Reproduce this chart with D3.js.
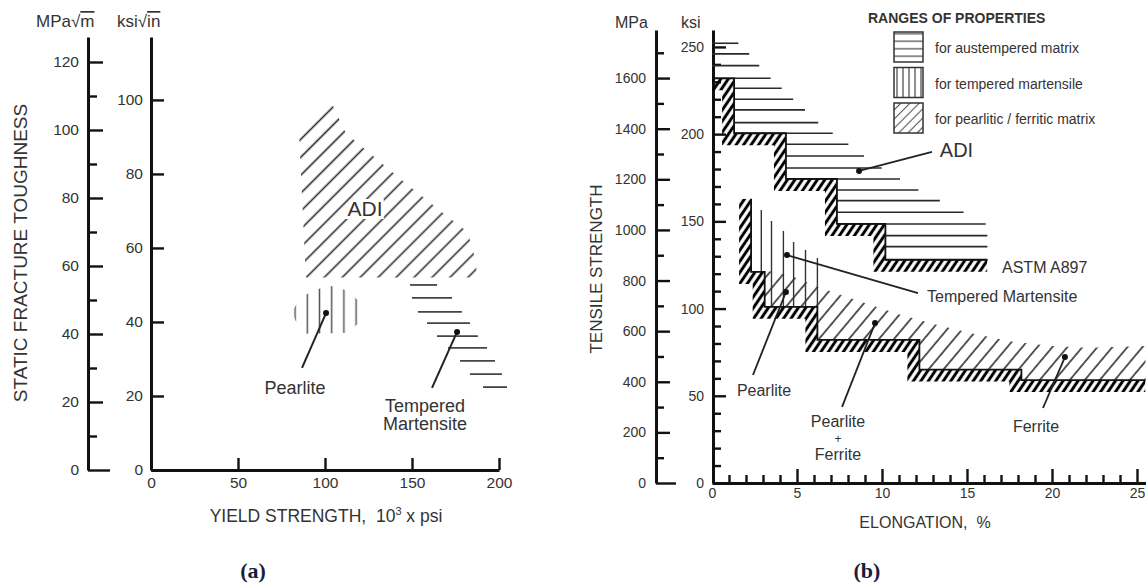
<!DOCTYPE html>
<html>
<head>
<meta charset="utf-8">
<script src="https://cdn.jsdelivr.net/npm/d3@7"></script>
<style>
  body { margin: 0; background: #fff; }
  text { font-family: "Liberation Sans", Arial, sans-serif; fill: #333; }
</style>
</head>
<body>
<svg id="canvas"></svg>
<script>
// ---------- (a) fracture toughness vs yield strength ----------
const aMPaTicks = [0, 20, 40, 60, 80, 100, 120];
const aMPaMinor = [10, 30, 50, 70, 90, 110];
const aKsiTicks = [0, 20, 40, 60, 80, 100];
const aYieldTicks = [0, 50, 100, 150, 200];

// ADI range (yield ksi, toughness ksi√in)
const adiAX = [85, 103, 112, 145, 170, 182, 187, 187, 89];
const adiAY = [92, 100, 91, 78, 68.6, 64.3, 56, 52, 52];
// pearlite range
const pearlAX = [81, 87.4, 96, 104, 112.1, 119, 120.1, 119, 112.1, 88.5, 82.8];
const pearlAY = [43, 47, 48.9, 49.7, 48.6, 45.9, 42.7, 39.5, 37, 36.8, 40.5];
// tempered martensite: horizontal bars
const tmAY = [50.0, 46.5, 42.7, 39.7, 36.2, 33.0, 29.5, 25.9, 22.4];
const tmAX0 = [148.9, 150, 153.4, 158.6, 164.4, 170.7, 177.6, 183.3, 190.8];
const tmAX1 = [164.4, 173, 178.7, 183.3, 187.9, 193.1, 197.7, 201.7, 204.6];

// ---------- (b) tensile strength vs elongation ----------
const bMPaTicks = [0, 200, 400, 600, 800, 1000, 1200, 1400, 1600];
const bMPaMinor = [100, 300, 500, 700, 900, 1100, 1300, 1500, 1700];
const bKsiTicks = [0, 50, 100, 150, 200, 250];
const bKsiMinor = [10, 20, 30, 40, 60, 70, 80, 90, 110, 120, 130, 140, 160, 170, 180, 190, 210, 220, 230, 240];
const bElongTicks = [0, 5, 10, 15, 20, 25];
const bElongMinor = [1, 2, 3, 4, 6, 7, 8, 9, 11, 12, 13, 14, 16, 17, 18, 19, 21, 22, 23, 24];

// ADI (ASTM A897) lower step boundary
const adiStepE = [0, 1.3, 4.35, 7.35, 10.2, 16.2];
const adiStepKsi = [232, 200.5, 174.3, 148.5, 128];
// ADI ranges: strength level (ksi) and max elongation (%)
const adiLineKsi = [252.1, 246.0, 239.3, 232.0, 226.3, 220.0, 213.9, 206.6, 200.5, 194.2,
  187.5, 180.6, 174.3, 168.0, 161.9, 155.2, 148.5, 141.8, 135.5, 128.0];
const adiLineEnd = [1.55, 2.19, 2.78, 3.45, 4.10, 4.78, 5.47, 6.25, 7.10, 8.02,
  8.94, 9.98, 11.06, 12.14, 13.40, 14.80, 16.10, 16.20, 16.20, 16.20];

// ductile iron (pearlite / ferrite) lower step boundary
const diTopKsi = 163;
const diStepE = [2.3, 3.1, 6.2, 12.2, 18.2, 25.5];
const diStepKsi = [121, 101, 82, 65, 59];
// upper edge of pearlitic / ferritic range
const pfTopE = [3.1, 4.6, 6.35, 8.6, 10.9, 13.1, 15.4, 17.7, 20.0, 22.1, 25.5];
const pfTopKsi = [122, 119, 112, 104.5, 97, 91, 85.5, 81, 78.5, 77.5, 78.5];

// tempered martensite: vertical bars
const tmBE = [2.9, 3.5, 4.2, 4.8, 5.5, 6.2];
const tmBTop = [156.5, 150.2, 144.5, 138.2, 133.6, 129];
const tmBBottom = [121, 101, 101, 101, 101, 101];

const legendLabels = ["for austempered matrix", "for tempered martensile", "for pearlitic / ferritic matrix"];
const legendFills = ["legH", "legV", "legD"];

const width = 1146;
const height = 585;

const canvas = d3.select("#canvas").attr("width", width).attr("height", height);
const defs = canvas.append("defs");

const xA = d3.scaleLinear().domain([0, 200]).range([151, 499]);
const yA = d3.scaleLinear().domain([0, 117]).range([470, 37]);
const yAm = d3.scaleLinear().domain([0, 127.35]).range([470, 37]);
const xB = d3.scaleLinear().domain([0, 25.5]).range([712, 1145.5]);
const yB = d3.scaleLinear().domain([0, 259.7]).range([483, 30]);
const yBm = d3.scaleLinear().domain([0, 1790]).range([483, 30]);

// hatch patterns
const hatch = (id, spacing, angle, sw, color, x0 = 0) => {
  const p = defs.append("pattern")
    .attr("id", id)
    .attr("patternUnits", "userSpaceOnUse")
    .attr("width", spacing)
    .attr("height", spacing)
    .attr("x", x0)
    .attr("patternTransform", `rotate(${angle})`);
  p.append("line")
    .attr("x1", spacing / 2).attr("x2", spacing / 2)
    .attr("y1", -1).attr("y2", spacing + 1)
    .attr("stroke", color)
    .attr("stroke-width", sw);
};
hatch("hatchA", 12.7, 45, 1.6, "#2a2a2a");
hatch("vertA", 12.2, 0, 1.5, "#555", 289);
hatch("band", 6.2, 34, 3, "#000");
hatch("pfB", 11.5, 40, 1.5, "#222");
hatch("legH", 7.5, 90, 1.2, "#444");
hatch("legV", 6, 0, 1.2, "#444", 894);
hatch("legD", 6.5, 45, 1.1, "#555");

// ---------- axes ----------
const yAxis = (scale, x, major, minor, majLen, minLen, fs, gap, stub) => {
  const g = canvas.append("g").attr("transform", `translate(${x},0)`);
  g.call(d3.axisRight(scale).tickValues(major).tickSize(majLen).tickSizeOuter(0).tickFormat(d3.format("d")));
  if (minor.length) {
    g.append("g")
      .call(d3.axisRight(scale).tickValues(minor).tickSize(minLen).tickFormat(""))
      .call((s) => s.select(".domain").remove());
  }
  g.attr("font-size", fs).attr("font-family", null);
  g.selectAll(".domain").attr("stroke", "#111").attr("stroke-width", 3);
  g.selectAll(".tick line").attr("stroke", "#111").attr("stroke-width", 2.4);
  g.selectAll(".tick text").attr("x", -gap).attr("text-anchor", "end").attr("fill", "#444");
  if (stub) {
    g.selectAll(".tick").filter((d) => d === 0).select("line").attr("x2", stub);
  }
  return g;
};

const xAxis = (scale, y, major, minor, majLen, minLen, fs, gap) => {
  const g = canvas.append("g").attr("transform", `translate(0,${y})`);
  g.call(d3.axisTop(scale).tickValues(major).tickSize(majLen).tickSizeOuter(0).tickFormat(d3.format("d")));
  if (minor.length) {
    g.append("g")
      .call(d3.axisTop(scale).tickValues(minor).tickSize(minLen).tickFormat(""))
      .call((s) => s.select(".domain").remove());
  }
  g.attr("font-size", fs).attr("font-family", null);
  g.selectAll(".domain").attr("stroke", "#111").attr("stroke-width", 3);
  g.selectAll(".tick line").attr("stroke", "#111").attr("stroke-width", 2.4);
  g.selectAll(".tick text").attr("y", gap).attr("dy", "0.71em").attr("fill", "#444");
  return g;
};

// (a)
yAxis(yAm, 88, aMPaTicks, aMPaMinor, 15, 9, 15.5, 9, 22);
yAxis(yA, 151, aKsiTicks, [], 13, 0, 15.5, 8, 0);
const xa = xAxis(xA, 470, aYieldTicks, [], 12, 0, 15.5, 7);
xa.selectAll(".tick").filter((d) => d === 0).select("line").remove();

// (b)
yAxis(yBm, 656, bMPaTicks, bMPaMinor, 14, 8, 14, 10, 20);
yAxis(yB, 713, bKsiTicks, bKsiMinor, 13, 8, 14, 9, 0);
const xb = xAxis(xB, 483, bElongTicks, bElongMinor, 14, 8, 14, 5);
xb.selectAll(".tick").filter((d) => d === 0).select("line").remove();

// ---------- panel (a) marks ----------
const lineA = d3.line().x((d) => xA(d[0])).y((d) => yA(d[1]));
const polyA = d3.line().x((d) => xA(d[0])).y((d) => yA(d[1])).curve(d3.curveLinearClosed);

canvas.append("path")
  .attr("d", polyA(d3.zip(adiAX, adiAY)))
  .attr("fill", "url(#hatchA)");

canvas.append("path")
  .attr("d", polyA(d3.zip(pearlAX, pearlAY)))
  .attr("fill", "url(#vertA)");

canvas.append("g")
  .selectAll("line")
  .data(tmAY)
  .join("line")
  .attr("x1", (d, i) => xA(tmAX0[i]))
  .attr("x2", (d, i) => xA(tmAX1[i]))
  .attr("y1", (d) => yA(d))
  .attr("y2", (d) => yA(d))
  .attr("stroke", "#444")
  .attr("stroke-width", 1.8);

// pointers (a)
const pointersA = [
  [[100.6, 42.4], [86.8, 27.6]],
  [[175.9, 37.3], [161.5, 22.2]],
];
pointersA.forEach((p) => {
  canvas.append("path").attr("d", lineA(p)).attr("stroke", "#222").attr("stroke-width", 2).attr("fill", "none");
  canvas.append("circle").attr("cx", xA(p[0][0])).attr("cy", yA(p[0][1])).attr("r", 3).attr("fill", "#111");
});

canvas.append("text")
  .attr("x", xA(123)).attr("y", yA(68.6))
  .attr("text-anchor", "middle")
  .attr("font-size", 21)
  .attr("stroke", "#fff").attr("stroke-width", 6).attr("paint-order", "stroke")
  .text("ADI");

const labelsA = [
  { t: "Pearlite", x: 82.8, y: 20.5 },
  { t: "Tempered", x: 157.5, y: 15.7 },
  { t: "Martensite", x: 157.5, y: 10.8 },
];
canvas.append("g")
  .selectAll("text")
  .data(labelsA)
  .join("text")
  .attr("x", (d) => xA(d.x))
  .attr("y", (d) => yA(d.y))
  .attr("text-anchor", "middle")
  .attr("font-size", 18)
  .text((d) => d.t);

// axis headers and titles (a)
canvas.append("text").attr("x", 36).attr("y", 27).attr("font-size", 17)
  .html('MPa√<tspan style="text-decoration:overline">m </tspan>');
canvas.append("text").attr("x", 117).attr("y", 27).attr("font-size", 17)
  .html('ksi√<tspan style="text-decoration:overline">in </tspan>');
canvas.append("text")
  .attr("transform", "translate(27,253) rotate(-90)")
  .attr("text-anchor", "middle")
  .attr("font-size", 19)
  .text("STATIC FRACTURE TOUGHNESS");
canvas.append("text")
  .attr("x", 326).attr("y", 522)
  .attr("text-anchor", "middle")
  .attr("font-size", 17.5)
  .attr("style", "white-space:pre")
  .html('YIELD STRENGTH,  10<tspan dy="-7" font-size="11">3</tspan><tspan dy="7"> x psi</tspan>');

// ---------- panel (b) marks ----------
const lineB = d3.line().x((d) => xB(d[0])).y((d) => yB(d[1]));

const stepPts = (E, K, top) => {
  const p = top != null ? [[E[0], top]] : [];
  K.forEach((k, i) => {
    p.push([E[i], k]);
    p.push([E[i + 1], k]);
  });
  return p;
};
const adiPts = stepPts(adiStepE, adiStepKsi);
const diPts = stepPts(diStepE, diStepKsi, diTopKsi);

// pearlitic / ferritic range
const pfPoly = [...d3.zip(pfTopE, pfTopKsi), ...diPts.slice(2).reverse()];
canvas.append("path").attr("d", lineB(pfPoly) + "Z").attr("fill", "url(#pfB)");

// tempered martensite bars
canvas.append("g")
  .selectAll("line")
  .data(tmBE)
  .join("line")
  .attr("x1", (d) => xB(d))
  .attr("x2", (d) => xB(d))
  .attr("y1", (d, i) => yB(tmBTop[i]))
  .attr("y2", (d, i) => yB(tmBBottom[i]))
  .attr("stroke", "#333")
  .attr("stroke-width", 1.4);

// ADI bars, starting at the step boundary
const adiStart = (k) => adiStepE[adiStepKsi.findIndex((s) => s <= k + 0.5)];
canvas.append("g")
  .selectAll("line")
  .data(adiLineKsi)
  .join("line")
  .attr("x1", (d) => xB(adiStart(d)))
  .attr("x2", (d, i) => xB(adiLineEnd[i]))
  .attr("y1", (d) => yB(d))
  .attr("y2", (d) => yB(d))
  .attr("stroke", "#2a2a2a")
  .attr("stroke-width", 1.6);

// thick hatched boundary bands
const clipPoly = (pts) => {
  const first = pts[0];
  const last = pts[pts.length - 1];
  return [[first[0] - 2, first[1]], ...pts, [last[0], -30], [first[0] - 2, -30]];
};
[["clipAdi", adiPts], ["clipDi", diPts]].forEach(([id, pts]) => {
  defs.append("clipPath").attr("id", id).append("path").attr("d", lineB(clipPoly(pts)) + "Z");
  canvas.append("path")
    .attr("d", lineB(pts))
    .attr("fill", "none")
    .attr("stroke", "url(#band)")
    .attr("stroke-width", 24)
    .attr("stroke-linejoin", "miter")
    .attr("clip-path", `url(#${id})`);
  canvas.append("path")
    .attr("d", lineB(pts))
    .attr("fill", "none")
    .attr("stroke", "#111")
    .attr("stroke-width", 1.8);
});

// pointers (b)
const pointersB = [
  [[8.65, 178.9], [12.94, 189.8]],
  [[4.41, 130.7], [12.12, 108.9]],
  [[4.35, 109.5], [2.41, 61.9]],
  [[9.59, 91.7], [7.65, 43.6]],
  [[20.76, 72.2], [19.47, 43.0]],
];
pointersB.forEach((p) => {
  canvas.append("path").attr("d", lineB(p)).attr("stroke", "#222").attr("stroke-width", 1.8).attr("fill", "none");
  canvas.append("circle").attr("cx", xB(p[0][0])).attr("cy", yB(p[0][1])).attr("r", 3).attr("fill", "#111");
});

const labelsB = [
  { t: "ADI", x: 13.4, y: 186.9, a: "start", s: 20 },
  { t: "ASTM A897", x: 17.06, y: 120.4, a: "start", s: 16 },
  { t: "Tempered Martensite", x: 12.65, y: 103.8, a: "start", s: 16 },
  { t: "Pearlite", x: 3.06, y: 49.9, a: "middle", s: 16 },
  { t: "Pearlite", x: 7.41, y: 32.1, a: "middle", s: 16 },
  { t: "+", x: 7.41, y: 22.9, a: "middle", s: 12 },
  { t: "Ferrite", x: 7.41, y: 13.2, a: "middle", s: 16 },
  { t: "Ferrite", x: 19.06, y: 29.2, a: "middle", s: 16 },
];
canvas.append("g")
  .selectAll("text")
  .data(labelsB)
  .join("text")
  .attr("x", (d) => xB(d.x))
  .attr("y", (d) => yB(d.y))
  .attr("text-anchor", (d) => d.a)
  .attr("font-size", (d) => d.s)
  .text((d) => d.t);

// axis headers and titles (b)
canvas.append("text").attr("x", 615).attr("y", 28).attr("font-size", 16).text("MPa");
canvas.append("text").attr("x", 681).attr("y", 28).attr("font-size", 16).text("ksi");
canvas.append("text")
  .attr("transform", "translate(602,269) rotate(-90)")
  .attr("text-anchor", "middle")
  .attr("font-size", 17)
  .text("TENSILE STRENGTH");
canvas.append("text")
  .attr("x", 925).attr("y", 528)
  .attr("text-anchor", "middle")
  .attr("font-size", 16)
  .attr("style", "white-space:pre")
  .text("ELONGATION,  %");

// legend
canvas.append("text")
  .attr("x", 868).attr("y", 23)
  .attr("font-size", 14).attr("font-weight", "bold")
  .attr("fill", "#111")
  .text("RANGES OF PROPERTIES");
const legend = canvas.append("g")
  .selectAll("g")
  .data(legendLabels)
  .join("g")
  .attr("transform", (d, i) => `translate(0,${i * 35.5})`);
legend.append("rect")
  .attr("x", 894).attr("y", 32)
  .attr("width", 29).attr("height", 30)
  .attr("fill", (d, i) => `url(#${legendFills[i]})`)
  .attr("stroke", "#333")
  .attr("stroke-width", 1.5);
legend.append("text")
  .attr("x", 935).attr("y", 53)
  .attr("font-size", 14)
  .text((d) => d);

// panel letters
canvas.append("text")
  .attr("x", 253).attr("y", 578)
  .attr("text-anchor", "middle")
  .attr("font-size", 22).attr("font-weight", "bold")
  .attr("style", "font-family:'Liberation Serif',serif;fill:#1c1c3a")
  .text("(a)");
canvas.append("text")
  .attr("x", 867).attr("y", 578)
  .attr("text-anchor", "middle")
  .attr("font-size", 22).attr("font-weight", "bold")
  .attr("style", "font-family:'Liberation Serif',serif;fill:#1c1c3a")
  .text("(b)");
</script>
</body>
</html>
